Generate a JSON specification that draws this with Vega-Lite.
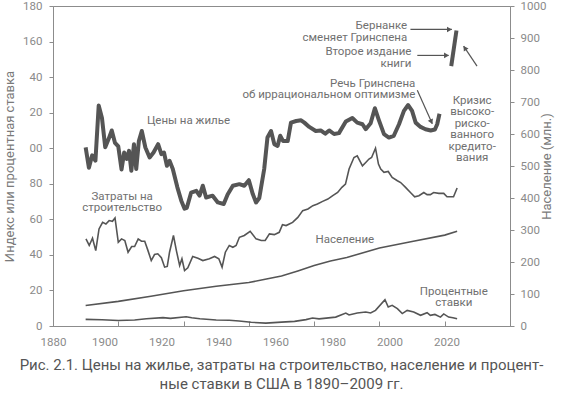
{
  "$schema": "https://vega.github.io/schema/vega-lite/v6.json",
  "width": 457,
  "height": 320,
  "autosize": "none",
  "padding": {"left": 53, "top": 6, "right": 70, "bottom": 71},
  "config": {
    "font": "Roboto",
    "view": {"stroke": "#8c8c8c", "strokeWidth": 1},
    "axis": {
      "domainColor": "#8c8c8c",
      "tickColor": "#8c8c8c",
      "labelColor": "#8a8a8a",
      "labelFontSize": 11.5,
      "titleColor": "#7a7a7a",
      "titleFontSize": 13,
      "titleFontWeight": "normal",
      "grid": false
    },
    "text": {"font": "Roboto"}
  },
  "title": {
    "text": ["Рис. 2.1. Цены на жилье, затраты на строительство, население и процент-", "ные ставки в США в 1890–2009 гг."],
    "orient": "bottom",
    "anchor": "middle",
    "fontSize": 15,
    "fontWeight": "normal",
    "color": "#555555",
    "lineHeight": 19,
    "offset": 10
  },
  "datasets": {
    "house": [
      {"year": 1890, "v": 100.5}, {"year": 1891, "v": 89}, {"year": 1892, "v": 96}, {"year": 1893, "v": 93},
      {"year": 1894, "v": 124}, {"year": 1895, "v": 117}, {"year": 1896, "v": 100.5}, {"year": 1897, "v": 105},
      {"year": 1898, "v": 110}, {"year": 1899, "v": 103}, {"year": 1900, "v": 101}, {"year": 1901, "v": 88},
      {"year": 1901.8, "v": 97.6}, {"year": 1902.6, "v": 94}, {"year": 1903.3, "v": 98.5}, {"year": 1904, "v": 87.3},
      {"year": 1904.8, "v": 102.3}, {"year": 1905.5, "v": 88.3}, {"year": 1906.3, "v": 104}, {"year": 1907.2, "v": 109.7},
      {"year": 1908.3, "v": 100.4}, {"year": 1909.6, "v": 94.8}, {"year": 1910.8, "v": 97.6}, {"year": 1912.2, "v": 102.3},
      {"year": 1913.2, "v": 96.7}, {"year": 1914, "v": 97.6}, {"year": 1914.9, "v": 90.1}, {"year": 1915.7, "v": 92.9},
      {"year": 1916.7, "v": 88.3}, {"year": 1918.1, "v": 78}, {"year": 1919.3, "v": 70.5}, {"year": 1920.3, "v": 66},
      {"year": 1921, "v": 66.5}, {"year": 1922.3, "v": 75}, {"year": 1923.9, "v": 76}, {"year": 1924.9, "v": 73.3},
      {"year": 1925.9, "v": 78.9}, {"year": 1926.9, "v": 72.3}, {"year": 1928.9, "v": 73.3}, {"year": 1930.5, "v": 69.5},
      {"year": 1932.3, "v": 68.6}, {"year": 1933.5, "v": 74}, {"year": 1935.1, "v": 78.9}, {"year": 1937.1, "v": 79.8},
      {"year": 1938.6, "v": 78.9}, {"year": 1940, "v": 82}, {"year": 1941.2, "v": 74.2}, {"year": 1942.2, "v": 69.5},
      {"year": 1943.2, "v": 72}, {"year": 1944.7, "v": 88.3}, {"year": 1945.7, "v": 106}, {"year": 1946.8, "v": 109.7},
      {"year": 1947.8, "v": 102.3}, {"year": 1948.8, "v": 101.3}, {"year": 1949.6, "v": 107}, {"year": 1950.5, "v": 104},
      {"year": 1951.9, "v": 104}, {"year": 1952.9, "v": 114.4}, {"year": 1954.5, "v": 115.3}, {"year": 1956, "v": 115.7},
      {"year": 1957, "v": 114.4}, {"year": 1958.5, "v": 112}, {"year": 1960.5, "v": 109.7}, {"year": 1962, "v": 110},
      {"year": 1963.4, "v": 108.2}, {"year": 1964.6, "v": 110}, {"year": 1966.1, "v": 108}, {"year": 1967.6, "v": 108.5},
      {"year": 1969.7, "v": 115}, {"year": 1971.7, "v": 117}, {"year": 1973.2, "v": 114.4}, {"year": 1974.8, "v": 113.5},
      {"year": 1975.8, "v": 110.7}, {"year": 1977.3, "v": 114}, {"year": 1978.6, "v": 122.5}, {"year": 1979.8, "v": 116},
      {"year": 1981.4, "v": 107.9}, {"year": 1982.9, "v": 106}, {"year": 1984.4, "v": 107}, {"year": 1986, "v": 113.5},
      {"year": 1987.5, "v": 121}, {"year": 1988.8, "v": 124.3}, {"year": 1990, "v": 121}, {"year": 1991.1, "v": 114.4},
      {"year": 1992.6, "v": 112}, {"year": 1994.1, "v": 110.7}, {"year": 1995.7, "v": 110}, {"year": 1997, "v": 110.5},
      {"year": 1997.7, "v": 113.5}, {"year": 1998.4, "v": 119.4}
    ],
    "jump": [
      {"year": 2002.0, "v": 146.2}, {"year": 2003.6, "v": 166.2}
    ],
    "cost": [
      {"year": 1890.1, "v": 49}, {"year": 1891.1, "v": 45.3}, {"year": 1892.1, "v": 49.4}, {"year": 1893.1, "v": 42.4},
      {"year": 1894.1, "v": 54.6}, {"year": 1895.2, "v": 58.3}, {"year": 1896.2, "v": 57.4}, {"year": 1897.2, "v": 59.3},
      {"year": 1898.2, "v": 58.9}, {"year": 1899, "v": 60.8}, {"year": 1900, "v": 47.1}, {"year": 1901, "v": 49},
      {"year": 1902, "v": 48.1}, {"year": 1903, "v": 41.5}, {"year": 1904.1, "v": 44.7}, {"year": 1905, "v": 44.7},
      {"year": 1906.1, "v": 49}, {"year": 1907.1, "v": 47.7}, {"year": 1908.1, "v": 47.7}, {"year": 1909.1, "v": 42.4},
      {"year": 1910.1, "v": 36.8}, {"year": 1911.1, "v": 40.2}, {"year": 1912.1, "v": 40.6}, {"year": 1913.2, "v": 38.4},
      {"year": 1914.2, "v": 33.1}, {"year": 1915, "v": 33.5}, {"year": 1915.7, "v": 41.5}, {"year": 1916.9, "v": 50.9},
      {"year": 1917.8, "v": 42.4}, {"year": 1918.8, "v": 34}, {"year": 1919.5, "v": 37.8}, {"year": 1920.3, "v": 31.2},
      {"year": 1921.3, "v": 32.7}, {"year": 1922.8, "v": 39.1}, {"year": 1924.4, "v": 38.1}, {"year": 1925.9, "v": 36.8},
      {"year": 1927.9, "v": 37.8}, {"year": 1929.5, "v": 39.1}, {"year": 1930.8, "v": 37.8}, {"year": 1931.8, "v": 33.1},
      {"year": 1932.8, "v": 41.5}, {"year": 1934, "v": 45.3}, {"year": 1935.1, "v": 44.3}, {"year": 1936.1, "v": 45.3},
      {"year": 1937.1, "v": 49.9}, {"year": 1938.6, "v": 50.9}, {"year": 1940.4, "v": 53.3}, {"year": 1942.2, "v": 49},
      {"year": 1943.8, "v": 48.1}, {"year": 1945, "v": 48.1}, {"year": 1946.3, "v": 51.8}, {"year": 1947.8, "v": 51.4},
      {"year": 1949.3, "v": 52.7}, {"year": 1950.3, "v": 57}, {"year": 1951.4, "v": 56.5}, {"year": 1952.4, "v": 57.4},
      {"year": 1953.4, "v": 58.3}, {"year": 1955, "v": 61.1}, {"year": 1956.5, "v": 64.9}, {"year": 1958.1, "v": 65.8},
      {"year": 1959.6, "v": 67.7}, {"year": 1961, "v": 68.6}, {"year": 1962.6, "v": 70.1}, {"year": 1964.2, "v": 71.4},
      {"year": 1965.7, "v": 73.3}, {"year": 1967.2, "v": 75.1}, {"year": 1968.5, "v": 78}, {"year": 1969.6, "v": 79.8},
      {"year": 1970.7, "v": 88.3}, {"year": 1972.2, "v": 94.8}, {"year": 1973.2, "v": 95.7}, {"year": 1974.8, "v": 90.1},
      {"year": 1975.8, "v": 92}, {"year": 1976.8, "v": 93.9}, {"year": 1977.6, "v": 94.8}, {"year": 1978.8, "v": 100},
      {"year": 1979.7, "v": 91.1}, {"year": 1980.4, "v": 88.3}, {"year": 1981.4, "v": 86.4}, {"year": 1982.7, "v": 86.9},
      {"year": 1983.9, "v": 83.6}, {"year": 1985.5, "v": 81.7}, {"year": 1986.5, "v": 80.7}, {"year": 1988, "v": 78},
      {"year": 1989.5, "v": 75.1}, {"year": 1990.8, "v": 72.7}, {"year": 1992.1, "v": 73.3}, {"year": 1993.6, "v": 75.1},
      {"year": 1994.6, "v": 73.9}, {"year": 1995.6, "v": 73.9}, {"year": 1996.6, "v": 75.1}, {"year": 1998.2, "v": 74.6},
      {"year": 1999.7, "v": 74.6}, {"year": 2000.7, "v": 72.7}, {"year": 2002.7, "v": 72.7}, {"year": 2003.8, "v": 77.6}
    ],
    "rate": [
      {"year": 1890, "v": 3.7}, {"year": 1895, "v": 3.5}, {"year": 1900, "v": 3.1}, {"year": 1905, "v": 3.4},
      {"year": 1908.6, "v": 4.1}, {"year": 1913.7, "v": 4.7}, {"year": 1916, "v": 4.3}, {"year": 1920.8, "v": 5.2},
      {"year": 1922.5, "v": 4.6}, {"year": 1925, "v": 4.1}, {"year": 1930, "v": 3.4}, {"year": 1934, "v": 3.2},
      {"year": 1937, "v": 2.8}, {"year": 1940.7, "v": 2.1}, {"year": 1945.2, "v": 1.6}, {"year": 1950, "v": 2.2},
      {"year": 1954, "v": 2.6}, {"year": 1957.5, "v": 3.6}, {"year": 1959.5, "v": 4.5}, {"year": 1961.5, "v": 4.0},
      {"year": 1966.6, "v": 5.0}, {"year": 1969.7, "v": 7.3}, {"year": 1970.7, "v": 6.2}, {"year": 1973.2, "v": 7.3},
      {"year": 1975.8, "v": 7.9}, {"year": 1977.3, "v": 7.3}, {"year": 1978.8, "v": 8.8}, {"year": 1981.7, "v": 14.8},
      {"year": 1982.7, "v": 10.7}, {"year": 1983.9, "v": 11.6}, {"year": 1985.5, "v": 9.8}, {"year": 1987, "v": 7.0},
      {"year": 1988.5, "v": 8.8}, {"year": 1990.5, "v": 7.9}, {"year": 1992.6, "v": 6.0}, {"year": 1994.6, "v": 7.5},
      {"year": 1995.6, "v": 6.0}, {"year": 1997, "v": 6.5}, {"year": 1998.7, "v": 5.0}, {"year": 1999.7, "v": 6.8},
      {"year": 2001.2, "v": 5.0}, {"year": 2002.5, "v": 4.6}, {"year": 2003.8, "v": 4.1}
    ],
    "pop": [
      {"year": 1890, "m": 64}, {"year": 1900, "m": 77}, {"year": 1910, "m": 93}, {"year": 1920, "m": 110},
      {"year": 1930, "m": 124}, {"year": 1940, "m": 136}, {"year": 1945, "m": 146}, {"year": 1950, "m": 156},
      {"year": 1955, "m": 172}, {"year": 1960, "m": 189}, {"year": 1965, "m": 203}, {"year": 1970, "m": 214},
      {"year": 1980, "m": 244}, {"year": 1990, "m": 264}, {"year": 2000, "m": 284}, {"year": 2003.8, "m": 296}
    ],
    "labelsC": [
      {"year": 1921.5, "v": 115.3, "t": "Цены на жилье"},
      {"year": 1901.2, "v": 72.6, "t": "Затраты на\nстроительство"},
      {"year": 1969.4, "v": 48.6, "t": "Население"},
      {"year": 2002.8, "v": 19.3, "t": "Процентные\nставки"},
      {"year": 2008.4, "v": 126.6, "t": "Кризис\nвысоко-\nриско-\nванного\nкредито-\nвания"}
    ],
    "labelsR": [
      {"year": 1988.5, "v": 168.6, "t": "Бернанке\nсменяет Гринспена"},
      {"year": 1989.8, "v": 153.9, "t": "Второе издание\nкниги"},
      {"year": 1991.0, "v": 136.2, "t": "Речь Гринспена\nоб иррациональном оптимизме"}
    ],
    "arrows": [
      {"year": 1989.5, "v": 166.8, "year2": 2002.2, "v2": 166.8},
      {"year": 1991.6, "v": 152.2, "year2": 2001.2, "v2": 152.2},
      {"year": 1991.6, "v": 132.6, "year2": 1996.2, "v2": 113.8},
      {"year": 2009.9, "v": 146.2, "year2": 2005.8, "v2": 157.4}
    ],
    "headsRight": [
      {"year": 2001.2, "v": 166.8},
      {"year": 2000.3, "v": 152.2}
    ],
    "headDown": [
      {"year": 1995.8, "v": 115.3}
    ],
    "headUp": [
      {"year": 2006.3, "v": 156}
    ]
  },
  "layer": [
    {
      "encoding": {
        "x": {"field": "year", "type": "quantitative",
          "scale": {"domain": [1880, 2020], "nice": false, "zero": false},
          "axis": {"orient": "bottom", "values": [1880, 1900, 1920, 1940, 1960, 1980, 2000, 2020], "labels": false, "title": null,
                   "tickSize": -5}},
        "y": {"field": "v", "type": "quantitative",
          "scale": {"domain": [0, 180], "nice": false},
          "axis": {"orient": "left", "values": [0, 20, 40, 60, 80, 100, 120, 140, 160, 180],
                   "labelExpr": "datum.value == 140 ? '40' : datum.value == 120 ? '20' : datum.value == 100 ? '00' : datum.label",
                   "title": "Индекс или процентная ставка", "tickSize": 4, "labelPadding": 7, "titlePadding": 6}}
      },
      "layer": [
        {"data": {"name": "cost"}, "mark": {"type": "line", "color": "#555555", "strokeWidth": 1.6}},
        {"data": {"name": "rate"}, "mark": {"type": "line", "color": "#555555", "strokeWidth": 1.6}},
        {"data": {"name": "house"}, "mark": {"type": "line", "color": "#555555", "strokeWidth": 4, "strokeJoin": "round"}},
        {"data": {"name": "jump"}, "mark": {"type": "line", "color": "#555555", "strokeWidth": 4}},
        {"data": {"name": "arrows"}, "mark": {"type": "rule", "color": "#555555", "strokeWidth": 1.2},
         "encoding": {"x2": {"field": "year2"}, "y2": {"field": "v2"}}},
        {"data": {"name": "headsRight"}, "mark": {"type": "point", "shape": "triangle", "angle": 90, "filled": true, "size": 32, "color": "#555555", "opacity": 1}},
        {"data": {"name": "headDown"}, "mark": {"type": "point", "shape": "triangle", "angle": 156, "filled": true, "size": 32, "color": "#555555", "opacity": 1}},
        {"data": {"name": "headUp"}, "mark": {"type": "point", "shape": "triangle", "angle": 326, "filled": true, "size": 32, "color": "#555555", "opacity": 1}},
        {"data": {"name": "labelsC"}, "mark": {"type": "text", "align": "center", "baseline": "middle", "fontSize": 11.5, "lineHeight": 11.5, "lineBreak": "\n", "color": "#707070"},
         "encoding": {"text": {"field": "t"}}},
        {"data": {"name": "labelsR"}, "mark": {"type": "text", "align": "right", "baseline": "middle", "fontSize": 11.5, "lineHeight": 11.5, "lineBreak": "\n", "color": "#707070"},
         "encoding": {"text": {"field": "t"}}}
      ]
    },
    {
      "data": {"name": "pop"},
      "mark": {"type": "line", "color": "#555555", "strokeWidth": 1.6},
      "encoding": {
        "x": {"field": "year", "type": "quantitative",
          "scale": {"domain": [1880, 2020], "nice": false, "zero": false},
          "axis": {"orient": "bottom", "values": [1880, 1895.76, 1913.22, 1930.68, 1948.14, 1965.6, 1983.06, 2000.52],
                   "labelExpr": "'' + (1880 + 20 * round((datum.value - 1878.3) / 17.46))",
                   "ticks": false, "domain": false, "labelFlush": false, "labelPadding": 10, "title": null}},
        "y": {"field": "m", "type": "quantitative",
          "scale": {"domain": [0, 1000], "nice": false},
          "axis": {"orient": "right", "values": [0, 100, 200, 300, 400, 500, 600, 700, 800, 900, 1000], "format": "d",
                   "title": "Население (млн.)", "titleAngle": 270, "tickSize": 4, "labelPadding": 6, "titlePadding": 8}}
      }
    }
  ],
  "resolve": {"scale": {"y": "independent"}, "axis": {"x": "independent"}}
}
